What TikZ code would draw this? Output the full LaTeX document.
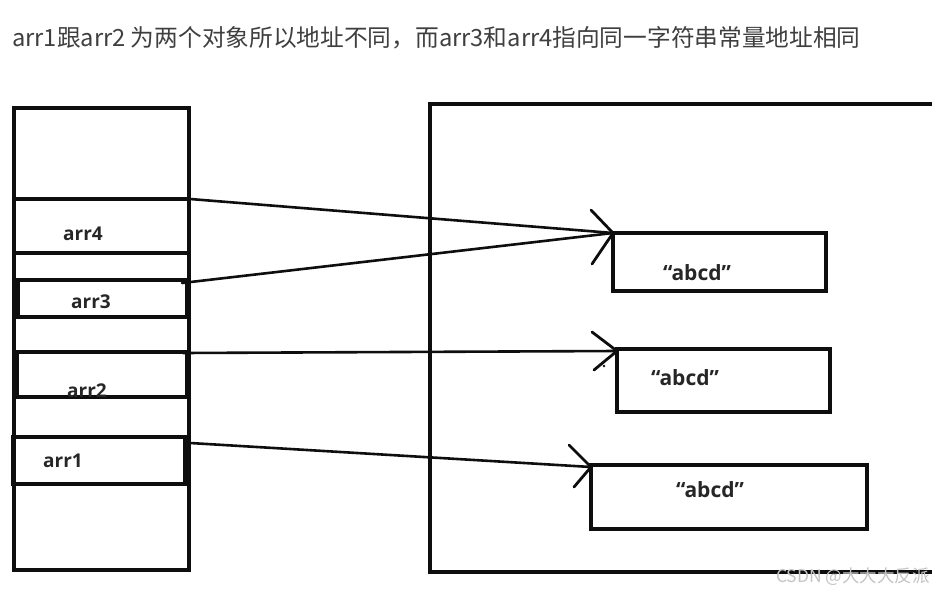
\documentclass[tikz,border=0pt]{standalone}
\usepackage{fontspec}
\newfontfamily\cjk{Noto Sans CJK SC}
\newfontfamily\lab{Open Sans}
\definecolor{titlegray}{HTML}{3F3F3F}
\definecolor{inkc}{HTML}{0E0E0E}
\definecolor{wmgray}{HTML}{C4C4C4}
\begin{document}
\begin{tikzpicture}[x=1pt,y=-1pt,
  box/.style={draw=inkc, line width=3.4pt, inner sep=0pt, outer sep=0pt, anchor=north west},
  lbl/.style={font=\lab\bfseries\fontsize{19}{22}\selectfont, text=inkc!90, inner sep=0pt},
  strlbl/.style={font=\lab\bfseries\fontsize{21}{24}\selectfont, text=inkc!90, inner sep=0pt},
  ptr/.style={draw=inkc, line width=2.6pt, line cap=round},
  vhead/.style={draw=inkc, line width=2.8pt, line cap=round, line join=round}]
\useasboundingbox (0,0) rectangle (932,591);
% title
\node[anchor=west, inner sep=0pt, text=titlegray, font=\cjk\fontsize{23.7}{27}\selectfont] (title) at (12,38)
  {arr1跟arr2 为两个对象所以地址不同，而arr3和arr4指向同一字符串常量地址相同};
% left stack
\node[box, minimum width=175, minimum height=462] (stack) at (14,108) {};
\node[box, minimum width=175, minimum height=54] (c4) at (14,199) {};
\node[box, minimum width=169, minimum height=37] (c3) at (18,280) {};
\node[box, minimum width=170, minimum height=45] (c2) at (17,352) {};
\node[box, minimum width=172, minimum height=47] (c1) at (13,437) {};
\node[lbl] (l4) at (83,234) {arr4};
\node[lbl] (l3) at (91,302) {arr3};
\node[lbl] (l2) at (87,391) {arr2};
\node[lbl] (l1) at (63,461) {arr1};
% heap area
\draw[draw=inkc, line width=3.2pt] (934,104) -- (430,104) -- (430,572) -- (934,572);
\node[box, minimum width=213, minimum height=58] (s1) at (613,233) {};
\node[box, minimum width=213, minimum height=63] (s2) at (617,349) {};
\node[box, minimum width=276, minimum height=64] (s3) at (591,465) {};
\node[strlbl] (t1) at (697,273) {“abcd”};
\node[strlbl] (t2) at (685,378) {“abcd”};
\node[strlbl] (t3) at (710,490) {“abcd”};
% pointer start points
\coordinate (p4) at (190,199);
\coordinate (p3) at (182,283);
\coordinate (p2) at (183,353);
\coordinate (p1) at (190,443);
% pointers
\draw[ptr] (p4) -- (s1.north west);
\draw[ptr] (p3) -- (s1.north west);
\draw[ptr] (p2) -- ([yshift=-2]s2.north west);
\draw[ptr] (p1) -- ([yshift=-2]s3.north west);
% open arrowheads
\draw[vhead] ([shift={(-22,-23)}]s1.north west) -- (s1.north west) -- ++(-21,31);
\draw[vhead] ([shift={(-25,-17)}]s2.north west) -- ([yshift=-2]s2.north west) -- ++(-23,19);
\draw[vhead] ([shift={(-22,-20)}]s3.north west) -- ([yshift=-2]s3.north west) -- ++(-17,20);
\fill[inkc] (604,366) circle (1.4);
% watermark
\node[anchor=east, inner sep=0pt, text=wmgray, font=\cjk\fontsize{17.5}{20}\selectfont] (wm) at (930,577) {CSDN @大大大反派};
\end{tikzpicture}
\end{document}
